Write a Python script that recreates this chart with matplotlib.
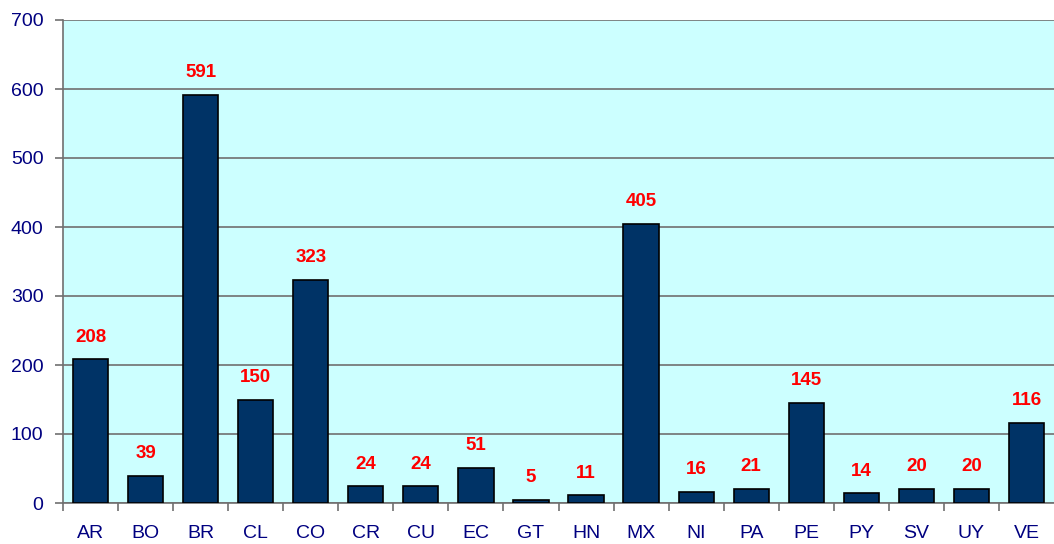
import matplotlib
matplotlib.use('Agg')
import matplotlib.pyplot as plt

countries = ['AR', 'BO', 'BR', 'CL', 'CO', 'CR', 'CU', 'EC', 'GT', 'HN',
             'MX', 'NI', 'PA', 'PE', 'PY', 'SV', 'UY', 'VE']
values = [208, 39, 591, 150, 323, 24, 24, 51, 5, 11,
          405, 16, 21, 145, 14, 20, 20, 116]
y_ticks = [0, 100, 200, 300, 400, 500, 600, 700]

plt.rcParams['font.family'] = ['Liberation Sans', 'DejaVu Sans']

fig = plt.figure(figsize=(10.54, 5.44), dpi=100)
ax = fig.add_axes([63 / 1054, 41 / 544, 1 - 63 / 1054, 483 / 544])
ax.set_facecolor('#CCFFFF')

x = list(range(len(countries)))
bars = ax.bar(x, values, width=0.64, color='#003366', edgecolor='black',
              linewidth=1.2, zorder=3)

for xi, v in zip(x, values):
    ax.annotate(str(v), (xi, v), xytext=(0, 16), textcoords='offset points',
                ha='center', va='center', color='#FF0000',
                fontweight='bold', fontsize=13.5)

ax.set_xlim(-0.5, len(countries) - 0.5)
ax.set_ylim(0, 700)
ax.set_yticks(y_ticks)
ax.yaxis.grid(True, color='#707070', linewidth=1.2, zorder=1)
ax.set_axisbelow(True)

ax.set_xticks([i - 0.5 for i in range(len(countries))], minor=False)
ax.set_xticklabels([])
ax.set_xticks(x, minor=True)
ax.set_xticklabels(countries, minor=True)
ax.tick_params(axis='x', which='minor', length=0, pad=16,
               labelsize=14, labelcolor='#000080')
ax.tick_params(axis='x', which='major', length=6, color='#707070', width=1.2)
ax.tick_params(axis='y', length=6, color='#707070', width=1.2,
               labelsize=14, labelcolor='#000080', pad=8)

for side in ['top', 'right']:
    ax.spines[side].set_visible(False)
for side in ['left', 'bottom']:
    ax.spines[side].set_color('#707070')
    ax.spines[side].set_linewidth(1.2)

fig.savefig('out.png', dpi=100)
